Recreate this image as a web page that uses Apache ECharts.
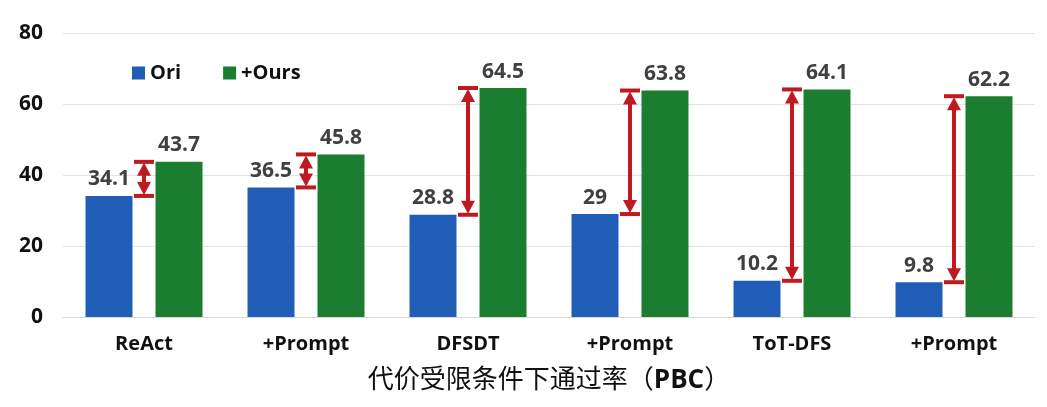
<!DOCTYPE html>
<html>
<head>
<meta charset="utf-8">
<script src="https://cdn.jsdelivr.net/npm/echarts@6/dist/echarts.min.js"></script>
<style>
    html, body { margin: 0; padding: 0; background: #fff; }
    #chart { width: 1047px; height: 407px; }
</style>
</head>
<body>
<div id="chart"></div>
<script>
'use strict';
// 数据
var categories = ['ReAct', '+Prompt', 'DFSDT', '+Prompt', 'ToT-DFS', '+Prompt'];
var oriValues = [34.1, 36.5, 28.8, 29, 10.2, 9.8];
var oursValues = [43.7, 45.8, 64.5, 63.8, 64.1, 62.2];
var yTicks = [0, 20, 40, 60, 80];

var FONT = "'Open Sans', 'Noto Sans CJK SC', sans-serif";
var RED = '#bf1a20';

// arrow data: [category index, low, high]
var arrowData = categories.map(function (c, i) {
    return [i, oriValues[i], oursValues[i]];
});

function renderArrow(params, api) {
    var top = api.coord([api.value(0), api.value(2)]);
    var bot = api.coord([api.value(0), api.value(1)]);
    var x = top[0];
    var yT = top[1], yB = bot[1];
    var capW = 10, headW = 7, headH = 12;
    var cap = { stroke: RED, lineWidth: 4 };
    return {
        type: 'group',
        children: [
            { type: 'line', shape: { x1: x - capW, y1: yT, x2: x + capW, y2: yT }, style: cap },
            { type: 'line', shape: { x1: x - capW, y1: yB, x2: x + capW, y2: yB }, style: cap },
            { type: 'line', shape: { x1: x, y1: yT + headH, x2: x, y2: yB - headH }, style: { stroke: RED, lineWidth: 4 } },
            { type: 'polygon', shape: { points: [[x, yT + 1], [x - headW, yT + headH + 2], [x + headW, yT + headH + 2]] }, style: { fill: RED } },
            { type: 'polygon', shape: { points: [[x, yB - 1], [x - headW, yB - headH - 2], [x + headW, yB - headH - 2]] }, style: { fill: RED } }
        ]
    };
}

var myChart = echarts.init(document.getElementById('chart'));
var barLabel = {
    show: true,
    position: 'top',
    distance: 6,
    fontFamily: FONT,
    fontSize: 21,
    fontWeight: 'bold',
    color: '#404040'
};
var option = {
    animation: false,
    textStyle: { fontFamily: FONT },
    grid: { left: 63, right: 12, top: 33, bottom: 90 },
    legend: {
        left: 127,
        top: 58,
        itemWidth: 13,
        itemHeight: 13,
        itemGap: 42,
        icon: 'rect',
        textStyle: { fontFamily: FONT, fontSize: 20, fontWeight: 'bold', color: '#111' },
        data: ['Ori', '+Ours']
    },
    xAxis: {
        type: 'category',
        data: categories,
        axisTick: { show: false },
        axisLine: { lineStyle: { color: '#d9d9d9' } },
        axisLabel: { margin: 17, fontFamily: FONT, fontSize: 20, fontWeight: 'bold', color: '#111' },
        name: '{a|代价受限条件下通过率（}{b|PBC}{a|）}',
        nameLocation: 'middle',
        nameGap: 51,
        nameTextStyle: {
            rich: {
                a: { fontFamily: FONT, fontSize: 26, color: '#111' },
                b: { fontFamily: FONT, fontSize: 26, fontWeight: 'bold', color: '#111' }
            }
        }
    },
    yAxis: {
        type: 'value',
        min: yTicks[0],
        max: yTicks[yTicks.length - 1],
        interval: 20,
        axisLine: { show: false },
        axisTick: { show: false },
        axisLabel: { margin: 20, fontFamily: FONT, fontSize: 21, fontWeight: 'bold', color: '#111' },
        splitLine: { lineStyle: { color: '#e3e3e3' } }
    },
    series: [
        {
            name: 'Ori',
            type: 'bar',
            data: oriValues,
            barWidth: '29%',
            barGap: '49%',
            itemStyle: { color: '#1f5db6' },
            label: barLabel
        },
        {
            name: '+Ours',
            type: 'bar',
            data: oursValues,
            barWidth: '29%',
            itemStyle: { color: '#1a7d2f' },
            label: barLabel
        },
        {
            type: 'custom',
            silent: true,
            z: 5,
            renderItem: renderArrow,
            encode: { x: 0, y: [1, 2] },
            data: arrowData
        }
    ]
};
myChart.setOption(option);
</script>
</body>
</html>
